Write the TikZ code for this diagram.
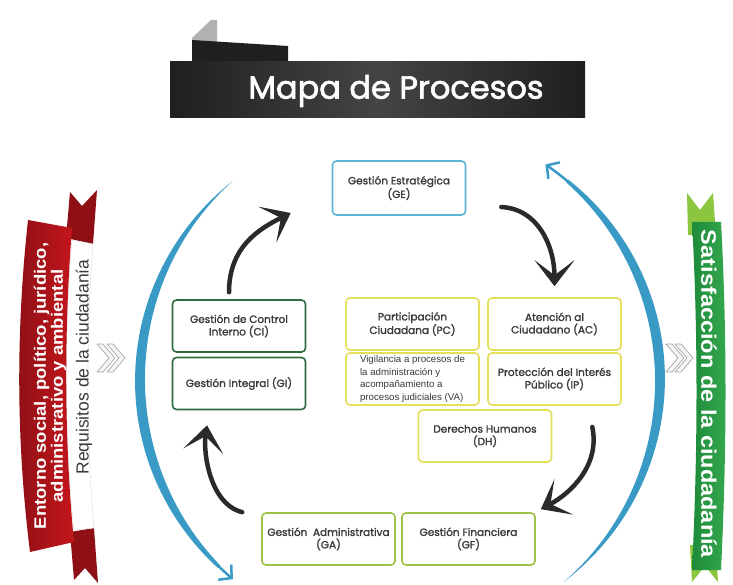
\documentclass[tikz,border=0pt]{standalone}
\usepackage{fontspec}
\setmainfont{Poppins}
\newfontfamily\boxfamily{Poppins}[FakeBold=1.6]
\newfontfamily\titlefamily{Poppins}[FakeBold=2]
\newfontfamily\arialfont{Liberation Sans}
\newfontfamily\ribbonfont{Liberation Sans}[FakeStretch=1.12]
\usetikzlibrary{arrows.meta}

\definecolor{arcblue}{HTML}{3A9AC6}
\definecolor{swooshgray}{HTML}{2A2A2A}
\definecolor{geblue}{HTML}{5AB4D3}
\definecolor{cigreen}{HTML}{2E6B40}
\definecolor{pcyellow}{HTML}{E6DF5C}
\definecolor{gagreen}{HTML}{9DC246}
\definecolor{boxtext}{HTML}{3A3A3A}
\definecolor{ribbonred}{HTML}{C4161C}
\definecolor{ribbondark}{HTML}{8E1015}
\definecolor{facegreen}{HTML}{1E8B3A}
\definecolor{facegreenlight}{HTML}{35A84E}
\definecolor{tailgreen}{HTML}{8CC63E}
\definecolor{titledark}{HTML}{1F1F1F}
\definecolor{titlemid}{HTML}{444444}

\newcommand{\boxfont}{\boxfamily\fontsize{10.5}{12.5}\selectfont}

\begin{document}
\begin{tikzpicture}[x=1pt, y=-1pt,
  box/.style={draw, rounded corners=4pt, line width=1.6pt, fill=white, text=boxtext,
    minimum width=133pt, minimum height=52pt, inner sep=1pt, align=center, font=\boxfont},
  swoosh/.style={draw=swooshgray, line width=4.5pt, line cap=round,
    -{Stealth[length=26pt,width=40pt,inset=15pt]}},
  bluehead/.style={draw=arcblue, line width=2.5pt, -{Straight Barb[length=9pt,width=20pt]}},
  chevron/.style={draw=gray!70, fill=gray!8, line width=0.7pt, line join=round}]

\useasboundingbox (0,0) rectangle (733,585);

% Title banner
\fill[gray!60] (192,62) -- (192,38) -- (211,20) -- (217,20) -- (217,62) -- cycle;
\fill[titledark] (192,40) -- (288,46) -- (288,62) -- (192,62) -- cycle;
\shade[left color=titledark, right color=titledark, middle color=titlemid] (170,62) rectangle (585,118);
\node[text=white, font=\titlefamily\fontsize{32}{36}\selectfont] (title) at (396,91) {Mapa de Procesos};

% Blue cycle arcs
\fill[arcblue] plot[domain=0:1, samples=60, variable=\s]
    ({400+(260+5*sin(160*\s))*cos(230-96*\s)}, {380+(260+5*sin(160*\s))*sin(230-96*\s)})
  -- plot[domain=1:0, samples=60, variable=\s]
    ({400+(260-5*sin(160*\s))*cos(230-96*\s)}, {380+(260-5*sin(160*\s))*sin(230-96*\s)}) -- cycle;
\draw[bluehead] plot[domain=140:130, samples=8] ({400+260*cos(\x)}, {380+260*sin(\x)});
\fill[arcblue] plot[domain=0:1, samples=60, variable=\s]
    ({400+(260+5*sin(160*\s))*cos(51-101*\s)}, {380+(260+5*sin(160*\s))*sin(51-101*\s)})
  -- plot[domain=1:0, samples=60, variable=\s]
    ({400+(260-5*sin(160*\s))*cos(51-101*\s)}, {380+(260-5*sin(160*\s))*sin(51-101*\s)}) -- cycle;
\draw[bluehead] plot[domain=-44:-56, samples=8] ({400+260*cos(\x)}, {380+260*sin(\x)});

% Process boxes
\node[box, draw=geblue, minimum height=54pt] (GE) at (399,188) {Gestión Estratégica\\(GE)};
\node[box, draw=cigreen] (CI) at (239,326) {Gestión de Control\\Interno (CI)};
\node[box, draw=cigreen] (GI) at (239,383.5) {Gestión Integral (GI)};
\node[box, draw=pcyellow] (PC) at (412.5,324) {Participación\\Ciudadana (PC)};
\node[box, draw=pcyellow] (AC) at (554.5,324) {Atención al\\Ciudadano (AC)};
\node[box, draw=pcyellow, align=left, font=\arialfont\fontsize{9.7}{12.5}\selectfont] (VA) at (412.5,379)
  {Vigilancia a procesos de\\la administración y\\acompañamiento a\\procesos judiciales (VA)};
\node[box, draw=pcyellow] (IP) at (554.5,379) {Protección del Interés\\Público (IP)};
\node[box, draw=pcyellow] (DH) at (485,436) {Derechos Humanos\\(DH)};
\node[box, draw=gagreen] (GA) at (328.5,539) {Gestión\ \ Administrativa\\(GA)};
\node[box, draw=gagreen] (GF) at (468.5,539) {Gestión Financiera\\(GF)};

% Cycle arrows between the boxes
\draw[swoosh] ([xshift=35pt,yshift=-19pt]GE.east) .. controls +(38,2) and +(0,-38) .. ([yshift=11pt]AC.north);
\draw[swoosh] ([xshift=40pt,yshift=9pt]DH.east) .. controls +(8,38) and +(30,-16) .. ([xshift=5pt,yshift=3pt]GF.north east);
\draw[swoosh] ([xshift=-19pt]GA.north west) .. controls +(-32,-8) and +(-4,28) .. ([xshift=-32pt,yshift=-15pt]GI.south);
\draw[swoosh] ([xshift=-10pt,yshift=7pt]CI.north) .. controls +(0,-45) and +(-32,16) .. ([xshift=-41pt,yshift=-25pt]GE.west);

% Input ribbon (left)
\fill[ribbondark] (66,238) -- (70,192) -- (82,206) -- (97,190) -- (93,244) -- cycle;
\fill[ribbondark] (70,532) -- (94,528) -- (98,583) -- (85,568) -- (74,580) -- cycle;
\filldraw[fill=white, draw=gray!30] (72,240) .. controls (64,330) and (64,440) .. (74,530)
  -- (94,528) .. controls (86,440) and (86,330) .. (93,244) -- cycle;
\shade[left color=ribbondark, right color=ribbonred] (28,220) .. controls (16,330) and (16,440) .. (30,552)
  -- (74,542) .. controls (64,440) and (64,330) .. (72,228) -- cycle;
\node[rotate=90, text=white, align=center, font=\ribbonfont\bfseries\fontsize{16.5}{17}\selectfont] (entorno) at (50,386)
  {Entorno social, político, jurídico,\\administrativo y ambiental};
\node[rotate=90, text=boxtext, font=\arialfont\fontsize{17.5}{18}\selectfont] (requisitos) at (84,367)
  {Requisitos de la ciudadanía};

% Output ribbon (right)
\fill[tailgreen] (688,235) -- (687,193) -- (700,210) -- (713,193) -- (716,235) -- cycle;
\fill[tailgreen] (690,545) -- (716,545) -- (718,582) -- (705,566) -- (692,582) -- cycle;
\shade[left color=facegreen, right color=facegreenlight] (692,222) .. controls (698,330) and (698,450) .. (692,570)
  -- (721,570) .. controls (727,450) and (727,330) .. (721,222) -- cycle;
\node[rotate=-90, text=white, font=\ribbonfont\bfseries\fontsize{21}{24}\selectfont] (satisfaccion) at (709,394)
  {Satisfacción de la ciudadanía};

% Chevrons
\foreach \cx in {97,107, 666,675} {
  \draw[chevron] (\cx,344) -- (\cx+6,344) -- (\cx+18,358) -- (\cx+6,372) -- (\cx,372) -- (\cx+12,358) -- cycle;
}

\end{tikzpicture}
\end{document}
